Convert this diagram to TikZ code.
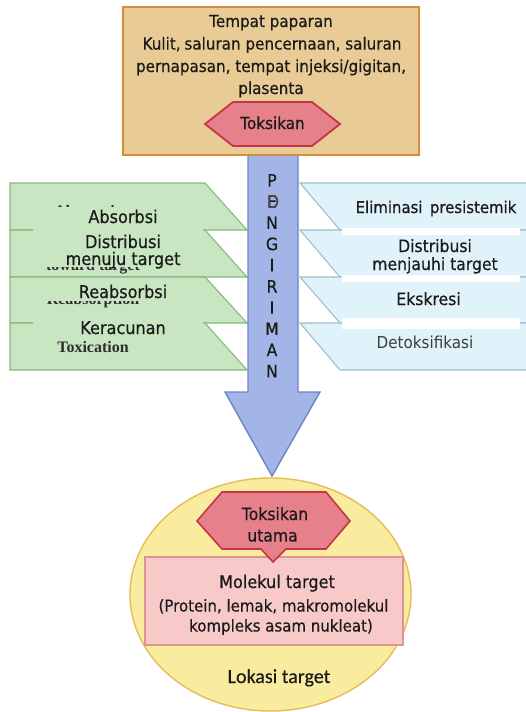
\documentclass[tikz,border=0pt]{standalone}
\usepackage{fontspec}
\setmainfont{DejaVu Sans}[FakeStretch=0.92, FakeBold=0.5]
\newfontfamily\lightsans{DejaVu Sans}[FakeStretch=0.92]
\newfontfamily\oldserif{Liberation Serif}
\newfontfamily\calfont{Carlito}[FakeBold=0.4]

\definecolor{ink}{HTML}{1A1A1A}
\definecolor{engink}{HTML}{2E2E2E}
\definecolor{topfill}{HTML}{E9CC95}
\definecolor{topdraw}{HTML}{D38D3E}
\definecolor{hexfill}{HTML}{E6808A}
\definecolor{hexdraw}{HTML}{C53545}
\definecolor{arrowfill}{HTML}{A3B4E6}
\definecolor{arrowdraw}{HTML}{6F84C6}
\definecolor{greenfill}{HTML}{C8E6C2}
\definecolor{greendraw}{HTML}{86B97C}
\definecolor{bluefill}{HTML}{E0F3FA}
\definecolor{bluedraw}{HTML}{A2BDCB}
\definecolor{ellfill}{HTML}{F9EC9F}
\definecolor{elldraw}{HTML}{E5BC55}
\definecolor{pinkfill}{HTML}{F8C9C9}
\definecolor{pinkdraw}{HTML}{DC9590}

\begin{document}
\begin{tikzpicture}[x=1pt,y=-1pt,
  lab/.style={anchor=base, inner sep=0pt, text=ink, font=\fontsize{17.5}{20}\selectfont},
  rlab/.style={lab, font=\fontsize{17}{20}\selectfont},
  toplab/.style={lab, font=\fontsize{16.5}{19}\selectfont},
  engl/.style={anchor=base, inner sep=0pt, text=engink, font=\oldserif\bfseries\fontsize{16}{19}\selectfont},
  greenshape/.style={fill=greenfill, draw=greendraw, line width=1.1pt},
  blueshape/.style={fill=bluefill, draw=bluedraw, line width=1.1pt},
  cover/.style={fill=greenfill, draw=none},
  whitebar/.style={fill=white, draw=none},
  hexa/.style={fill=hexfill, draw=hexdraw, line width=1.8pt, line join=miter},
  letter/.style={anchor=base, inner sep=0pt, text=ink, font=\fontsize{17}{20}\selectfont}
]
\useasboundingbox (0,0) rectangle (526,712);

% processes beside the delivery arrow: green (towards target), blue (away from target)
\foreach \a/\b in {183/230,230/277,277/323,323/370} {
  \filldraw[greenshape] (10,\a) -- (205,\a) -- (247,\b) -- (10,\b) -- cycle;
  \filldraw[blueshape] (300,\a) -- (528,\a) -- (528,\b) -- (340,\b) -- cycle;
}

% older English captions, partly hidden under the new labels
\node[engl] (enabs) at (93,216) {Absorption};
\node[engl] (entow) at (93,270) {toward target};
\node[engl] (enreab) at (93,304) {Reabsorption};
\node[engl] (entox) at (93,352) {Toxication};

\fill[cover] (33,207) rectangle (203,267);
\fill[cover] (33,280) rectangle (203,300.5);
\fill[cover] (33,315) rectangle (203,338);

\node[lab] (absorb) at (123,223) {Absorbsi};
\node[lab] (dist1) at (123,248) {Distribusi};
\node[lab] (dist2) at (123,265) {menuju target};
\node[lab] (reab) at (123,298) {Reabsorbsi};
\node[lab] (kerac) at (123,334) {Keracunan};

\fill[whitebar] (342,228) rectangle (520,235);
\fill[whitebar] (342,275) rectangle (520,282);
\fill[whitebar] (342,318) rectangle (520,329);

\node[lab, font=\fontsize{16.2}{19}\selectfont] (elim) at (436,213) {Eliminasi\ \,presistemik};
\node[rlab] (away1) at (435,252) {Distribusi};
\node[rlab] (away2) at (435,270) {menjauhi target};
\node[rlab] (eks) at (428.5,305) {Ekskresi};
\node[rlab, font=\lightsans\fontsize{16.5}{19}\selectfont, text=ink!85] (detox) at (425,348) {Detoksifikasi};

% delivery arrow
\filldraw[fill=arrowfill, draw=arrowdraw, line width=1.4pt, line join=miter]
  (248,150) -- (248,392) -- (225,392) -- (272,476) -- (320,392) -- (298,392) -- (298,150) -- cycle;

% site of exposure
\node[draw=topdraw, fill=topfill, line width=2.5pt, minimum width=296pt, minimum height=148pt, inner sep=0pt]
  (site) at (271,81) {};
\node[toplab] (t1) at (271,27) {Tempat paparan};
\node[toplab] (t2) at (272,49.5) {Kulit,\kern-1pt{} saluran pencernaan, saluran};
\node[toplab] (t3) at (271,72) {pernapasan, tempat injeksi/gigitan,};
\node[toplab] (t4) at (271,94) {plasenta};

\filldraw[hexa] (205,124) -- (233,102) -- (312,102) -- (340,124) -- (312,146) -- (233,146) -- cycle;
\node[toplab] (tox) at (272.5,129) {Toksikan};

% target site
\filldraw[fill=ellfill, draw=elldraw, line width=1.4pt] (270.5,594.5) ellipse [x radius=140.5pt, y radius=116.5pt];
\filldraw[fill=pinkfill, draw=pinkdraw, line width=1.4pt] (145,557) rectangle (403,645);
\filldraw[hexa, line width=1.6pt] (197,521) -- (222,492) -- (326,492) -- (350,521) -- (326,549)
  -- (286,549) -- (273,562) -- (261,549) -- (222,549) -- cycle;

\node[lab, font=\fontsize{17}{20}\selectfont] (ult1) at (275,520) {Toksikan};
\node[lab, font=\fontsize{17}{20}\selectfont] (ult2) at (272.5,541.5) {utama};
\node[lab, font=\fontsize{17.5}{20}\selectfont] (mol1) at (277,588) {Molekul target};
\node[lab, font=\fontsize{16.3}{19}\selectfont] (mol2) at (273.5,611.5) {(Protein, lemak, makromolekul};
\node[lab, font=\fontsize{16.3}{19}\selectfont] (mol3) at (281,631.5) {kompleks asam nukleat)};
\node[lab, font=\calfont\fontsize{20}{24}\selectfont] (loc) at (279,683) {Lokasi target};

% vertical caption inside the arrow
\foreach \c [count=\i from 0] in {P,E,N,G,I,R,I,M,A,N}
  \node[letter] (let\i) at (272,186.5+21.2*\i) {\c};
\node[letter, text=ink!80] (letd) at (273,207.7) {D};
\end{tikzpicture}
\end{document}
